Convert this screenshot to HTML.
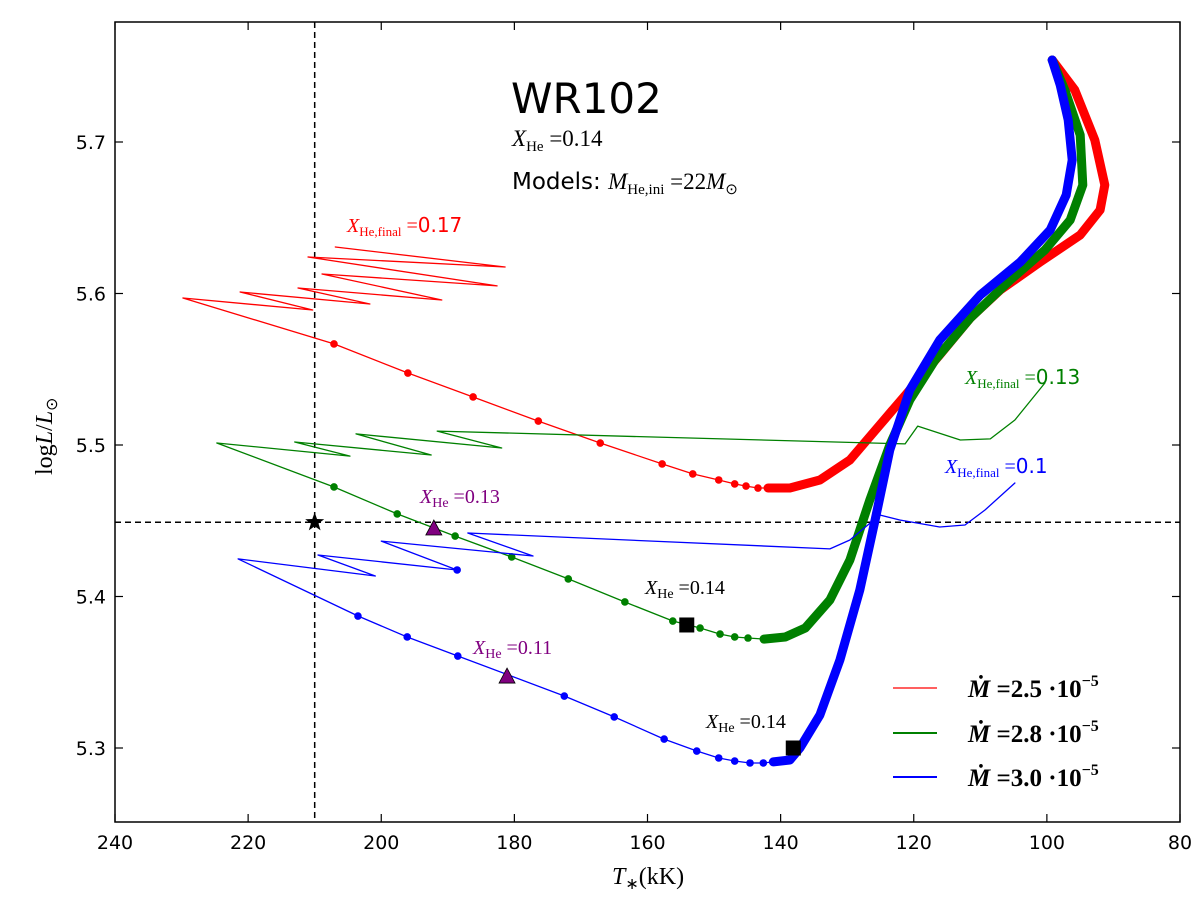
<!DOCTYPE html>
<html><head><meta charset="utf-8"><style>
body{margin:0;background:#fff;}
svg text{font-family:"Liberation Serif",serif;}
.sans{font-family:"DejaVu Sans","Liberation Sans",sans-serif !important;}
</style></head><body>
<svg id="chart" width="1200" height="895" viewBox="0 0 1200 895" xmlns="http://www.w3.org/2000/svg">
<rect width="1200" height="895" fill="#fff"/>
<g id="plot"></g>
<rect x="115" y="22" width="1065" height="800" fill="none" stroke="#000" stroke-width="1.5"/>
<g id="ticks"></g>
<text class="sans" x="511" y="113" font-size="42">WR102</text>
<text x="512" y="146" font-size="23"><tspan font-style="italic">X</tspan><tspan font-size="15" dy="5">He</tspan><tspan dy="-5"> =0.14</tspan></text>
<text x="512" y="189" font-size="23"><tspan class="sans" font-size="23">Models: </tspan><tspan font-style="italic">M</tspan><tspan font-size="15" dy="5">He,ini</tspan><tspan dy="-5"> =22</tspan><tspan font-style="italic">M</tspan><tspan font-size="15" dy="5">⊙</tspan></text>
<text x="347" y="232" font-size="20" fill="#f00"><tspan font-style="italic">X</tspan><tspan font-size="13" dy="4">He,final</tspan><tspan dy="-4"> =</tspan><tspan class="sans">0.17</tspan></text>
<text x="965" y="384" font-size="20" fill="#008000"><tspan font-style="italic">X</tspan><tspan font-size="13" dy="4">He,final</tspan><tspan dy="-4"> =</tspan><tspan class="sans">0.13</tspan></text>
<text x="945" y="473" font-size="20" fill="#00f"><tspan font-style="italic">X</tspan><tspan font-size="13" dy="4">He,final</tspan><tspan dy="-4"> =</tspan><tspan class="sans">0.1</tspan></text>
<text x="420" y="503" font-size="20" fill="#800080"><tspan font-style="italic">X</tspan><tspan font-size="14" dy="4">He</tspan><tspan dy="-4"> =0.13</tspan></text>
<text x="473" y="654" font-size="20" fill="#800080"><tspan font-style="italic">X</tspan><tspan font-size="14" dy="4">He</tspan><tspan dy="-4"> =0.11</tspan></text>
<text x="645" y="594" font-size="20" fill="#000"><tspan font-style="italic">X</tspan><tspan font-size="14" dy="4">He</tspan><tspan dy="-4"> =0.14</tspan></text>
<text x="706" y="728" font-size="20" fill="#000"><tspan font-style="italic">X</tspan><tspan font-size="14" dy="4">He</tspan><tspan dy="-4"> =0.14</tspan></text>
<g>
<line x1="893" y1="688" x2="937" y2="688" stroke="#f00" stroke-width="1.3"/>
<line x1="893" y1="733" x2="937" y2="733" stroke="#008000" stroke-width="2"/>
<line x1="893" y1="777" x2="937" y2="777" stroke="#00f" stroke-width="2"/>
<text x="968" y="697" font-size="25" font-weight="bold"><tspan font-style="italic">Ṁ</tspan> =2.5 ·10<tspan font-size="16" dy="-11">−5</tspan></text>
<text x="968" y="742" font-size="25" font-weight="bold"><tspan font-style="italic">Ṁ</tspan> =2.8 ·10<tspan font-size="16" dy="-11">−5</tspan></text>
<text x="968" y="786" font-size="25" font-weight="bold"><tspan font-style="italic">Ṁ</tspan> =3.0 ·10<tspan font-size="16" dy="-11">−5</tspan></text>
</g>
<text x="612" y="884" font-size="24"><tspan font-style="italic">T</tspan><tspan font-size="16" dy="5">∗</tspan><tspan dy="-5">(kK)</tspan></text>
<text transform="translate(52,475) rotate(-90)" font-size="24">log<tspan font-style="italic">L</tspan>/<tspan font-style="italic">L</tspan><tspan font-size="16" dy="5">⊙</tspan></text>
</svg>
<script>
const xTicks=[240,220,200,180,160,140,120,100,80];
const yTicks=[5.3,5.4,5.5,5.6,5.7];
const redThinT=[206.9,181.4,211.0,182.6,208.9,190.9,212.5,201.7,221.2,210.3,229.8,207.1];
const redThinL=[5.6307,5.6175,5.6241,5.605,5.6129,5.5957,5.6036,5.5931,5.601,5.5891,5.597,5.5667];
const redDotT=[207.1,196.0,186.2,176.4,167.1,157.8,153.2,149.3,146.9,145.2,143.4,141.9];
const redDotL=[5.5667,5.5475,5.5317,5.5158,5.5013,5.4875,5.4809,5.4769,5.4743,5.4729,5.4716,5.4716];
const redThickT=[141.9,138.6,134.1,129.6,125.1,120.6,116.1,111.5,107.0,101.0,95.0,92.0,91.3,92.8,95.8,99.2];
const redThickL=[5.4716,5.4716,5.4769,5.4901,5.5132,5.5363,5.5594,5.5838,5.6023,5.6208,5.6386,5.6551,5.6716,5.7013,5.7343,5.7541];
const greenThinT=[100.3,104.8,108.5,113.0,119.4,121.3,191.6,181.9,203.8,192.5,213.0,204.7,224.7,207.1];
const greenThinL=[5.5409,5.5165,5.5040,5.5033,5.5125,5.5007,5.5092,5.4980,5.5073,5.4934,5.5020,5.4927,5.5013,5.4723];
const greenDotT=[207.1,197.6,188.9,180.4,171.9,163.4,156.2,152.1,149.1,146.9,144.9,142.5];
const greenDotL=[5.4723,5.4545,5.4399,5.4261,5.4116,5.3964,5.3838,5.3792,5.3752,5.3733,5.3726,5.3719];
const greenThickT=[142.5,139.3,136.3,132.6,129.6,126.6,123.6,120.6,116.8,111.5,105.5,100.3,96.5,94.6,95.0,97.3,99.2];
const greenThickL=[5.3719,5.3733,5.3792,5.3977,5.4241,5.4637,5.5,5.5297,5.5561,5.5838,5.6089,5.6287,5.6485,5.6716,5.7046,5.7343,5.7541];
const blueThinT=[104.8,109.3,112.3,116.1,122.1,125.1,129.6,132.6,187.0,177.2,200.0,188.6,209.5,200.9,221.5,203.5];
const blueThinL=[5.4749,5.4571,5.4472,5.4459,5.4505,5.4538,5.4373,5.4314,5.4419,5.4267,5.4366,5.4175,5.4274,5.4135,5.4248,5.3871];
const blueDotT=[188.6,203.5,196.1,188.5,172.5,165.0,157.5,152.6,149.3,146.9,144.6,142.6,141.1];
const blueDotL=[5.4175,5.3871,5.3733,5.3607,5.3343,5.3205,5.3059,5.298,5.2934,5.2914,5.2901,5.2901,5.2908];
const blueThickT=[141.1,138.6,137.1,134.1,131.1,128.1,125.8,123.6,120.6,116.1,110.0,104.0,99.5,97.1,96.2,96.8,98.0,99.2];
const blueThickL=[5.2908,5.2921,5.3,5.3218,5.3581,5.4043,5.4505,5.4967,5.5363,5.5693,5.599,5.6208,5.6419,5.665,5.6881,5.7145,5.7376,5.7541];
const squareT=[154.1,138.1];
const squareL=[5.3812,5.3];
const triangleT=[192.1,181.1];
const triangleL=[5.4452,5.3475];
const starT=[210];
const starL=[5.449];

const NS='http://www.w3.org/2000/svg';
function X(t){return 115+(240-t)*(1065/160);}
function Y(l){return 142+(5.7-l)*1515;}
const plot=document.getElementById('plot');
const ticks=document.getElementById('ticks');
function mk(tag,attrs,parent){const e=document.createElementNS(NS,tag);for(const k in attrs)e.setAttribute(k,attrs[k]);(parent||plot).appendChild(e);return e;}
function path(T,L,color,w,name){
  const pts=T.map((t,i)=>X(t).toFixed(1)+','+Y(L[i]).toFixed(1)).join(' ');
  const p=mk('polyline',{points:pts,fill:'none',stroke:color,'stroke-width':w,'stroke-linejoin':'round','stroke-linecap':'round'});
  
  
}
function dots(T,L,color,name){
  T.forEach((t,i)=>{const c=mk('circle',{cx:X(t),cy:Y(L[i]),r:3.8,fill:color});
  
  });
}
// dashed reference lines
const hl=mk('line',{x1:115,x2:1180,y1:Y(starL[0]),y2:Y(starL[0]),stroke:'#000','stroke-width':1.5,'stroke-dasharray':'6,4'});


const vl=mk('line',{x1:X(starT[0]),x2:X(starT[0]),y1:22,y2:822,stroke:'#000','stroke-width':1.5,'stroke-dasharray':'6,4'});



path(redThinT,redThinL,'#f00',1.3,'red-track-zigzag');
path(redDotT,redDotL,'#f00',1.3,'red-track-line');
path(redThickT,redThickL,'#f00',9,'red-track-thick');
dots(redDotT,redDotL,'#f00','red-track-point');
path(greenThinT,greenThinL,'#008000',1.3,'green-track-zigzag');
path(greenDotT,greenDotL,'#008000',1.3,'green-track-line');
path(greenThickT,greenThickL,'#008000',9,'green-track-thick');
dots(greenDotT,greenDotL,'#008000','green-track-point');
path(blueThinT,blueThinL,'#00f',1.3,'blue-track-zigzag');
path(blueDotT.slice(1),blueDotL.slice(1),'#00f',1.3,'blue-track-line');
path(blueThickT,blueThickL,'#00f',9,'blue-track-thick');
dots(blueDotT,blueDotL,'#00f','blue-track-point');

squareT.forEach((t,i)=>{const s=mk('rect',{x:X(t)-7.5,y:Y(squareL[i])-7.5,width:15,height:15,fill:'#000'});

});
triangleT.forEach((t,i)=>{const x=X(t),y=Y(triangleL[i]);const p=mk('polygon',{points:`${x},${y-8} ${x-8},${y+7} ${x+8},${y+7}`,fill:'#800080',stroke:'#000','stroke-width':0.8});

});
starT.forEach((t,i)=>{const cx=X(t),cy=Y(starL[i]);let pts=[];for(let k=0;k<10;k++){const r=k%2?4:10;const a=-Math.PI/2+k*Math.PI/5;pts.push((cx+r*Math.cos(a)).toFixed(1)+','+(cy+r*Math.sin(a)).toFixed(1));}
const s=mk('polygon',{points:pts.join(' '),fill:'#000'});

});

xTicks.forEach(v=>{const x=X(v);
  mk('line',{x1:x,x2:x,y1:822,y2:814,stroke:'#000','stroke-width':1.2},ticks);
  mk('line',{x1:x,x2:x,y1:22,y2:30,stroke:'#000','stroke-width':1.2},ticks);
  const t=mk('text',{x:x,y:849,'font-size':19,'text-anchor':'middle',class:'sans'},ticks);t.textContent=v;
  
  });
yTicks.forEach(v=>{const y=Y(v);
  mk('line',{x1:115,x2:123,y1:y,y2:y,stroke:'#000','stroke-width':1.2},ticks);
  mk('line',{x1:1180,x2:1172,y1:y,y2:y,stroke:'#000','stroke-width':1.2},ticks);
  const t=mk('text',{x:106,y:y+7,'font-size':19,'text-anchor':'end',class:'sans'},ticks);t.textContent=v.toFixed(1);
  
  });
</script>
</body></html>
